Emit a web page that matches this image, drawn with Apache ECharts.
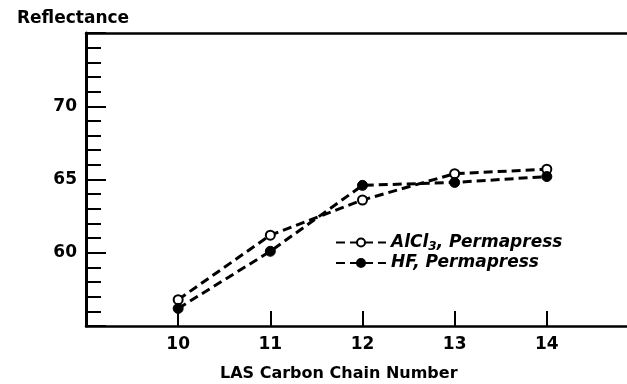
<!DOCTYPE html>
<html><head><meta charset="utf-8">
<script src="https://cdn.jsdelivr.net/npm/echarts@6/dist/echarts.min.js"></script>
<style>html,body{margin:0;padding:0;background:#fff}#c{width:627px;height:384px}</style>
</head><body><div id="c"></div>
<script>
const categories = [10, 11, 12, 13, 14];
const alcl3 = [56.8, 61.2, 63.6, 65.4, 65.7];
const hf = [56.2, 60.1, 64.6, 64.8, 65.2];
const yTickLabels = [60, 65, 70];
const xTickLabels = [10, 11, 12, 13, 14];

const FONT = '"DejaVu Sans", Verdana, sans-serif';
const chart = echarts.init(document.getElementById('c'), null, {renderer: 'canvas'});
const pair = arr => categories.map((c, i) => [c, arr[i]]);
chart.setOption({
  animation: false,
  backgroundColor: '#fff',
  grid: {left: 86, top: 33, right: 0, bottom: 58, show: false},
  xAxis: [{
    type: 'value', min: 9, max: 14.87, interval: 1,
    axisLine: {lineStyle: {color: '#000', width: 2.5}},
    axisTick: {inside: true, length: 15, lineStyle: {color: '#000', width: 2}},
    splitLine: {show: false},
    axisLabel: {color: '#000', fontFamily: FONT, fontWeight: 'bold', fontSize: 17, margin: 10,
      showMaxLabel: false,
      formatter: v => xTickLabels.includes(v) ? String(v) : ''}
  }, {
    type: 'value', position: 'top', min: 9, max: 14.87,
    axisLine: {show: true, lineStyle: {color: '#000', width: 2.5}},
    axisTick: {show: false}, axisLabel: {show: false}, splitLine: {show: false}
  }],
  yAxis: {
    type: 'value', min: 55, max: 75, interval: 5,
    axisLine: {lineStyle: {color: '#000', width: 3}},
    axisTick: {inside: true, length: 20, lineStyle: {color: '#000', width: 2}},
    minorTick: {show: true, splitNumber: 5, length: 15, lineStyle: {color: '#000', width: 2}},
    splitLine: {show: false},
    axisLabel: {color: '#000', fontFamily: FONT, fontWeight: 'bold', fontSize: 17, margin: 9,
      formatter: v => yTickLabels.includes(v) ? String(v) : ''}
  },
  legend: {
    orient: 'vertical', left: 330, top: 229, itemWidth: 50, itemHeight: 10, itemGap: 2,
    textStyle: {color: '#000', fontFamily: FONT, fontWeight: 'bold', fontStyle: 'italic', fontSize: 17,
      rich: {sub: {fontFamily: FONT, fontWeight: 'bold', fontStyle: 'italic', fontSize: 12, verticalAlign: 'bottom', padding: [8, 0, 0, 0]}}},
    formatter: n => n === 'AlCl3, Permapress' ? 'AlCl{sub|3}, Permapress' : n,
    data: ['AlCl3, Permapress', 'HF, Permapress']
  },
  graphic: [
    {type: 'text', left: 17, top: 10, style: {text: 'Reflectance', fill: '#000', font: 'bold 17px ' + FONT}},
    {type: 'text', left: 220, top: 366, style: {text: 'LAS Carbon Chain Number', fill: '#000', font: 'bold 16px ' + FONT}}
  ],
  series: [
    {name: 'AlCl3, Permapress', type: 'line', data: pair(alcl3), symbol: 'circle', symbolSize: 9,
      lineStyle: {color: '#000', width: 3, type: [9, 5]},
      itemStyle: {color: '#fff', borderColor: '#000', borderWidth: 2}},
    {name: 'HF, Permapress', type: 'line', data: pair(hf), symbol: 'circle', symbolSize: 10,
      lineStyle: {color: '#000', width: 3, type: [9, 5]},
      itemStyle: {color: '#000', borderColor: '#000', borderWidth: 1}}
  ]
});
</script></body></html>
